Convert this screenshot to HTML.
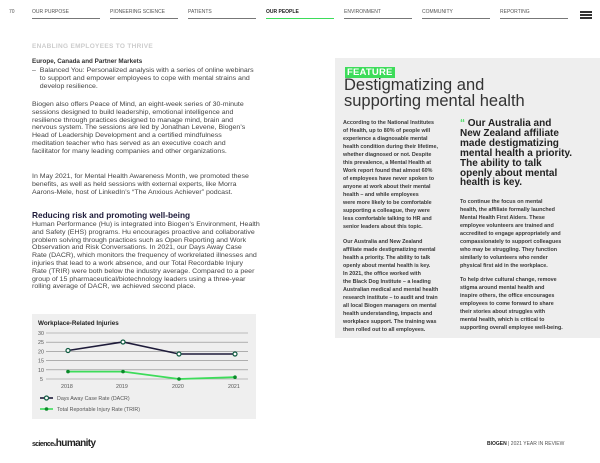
<!DOCTYPE html>
<html><head><meta charset="utf-8"><style>
*{margin:0;padding:0;box-sizing:border-box}
body{width:600px;height:463px;background:#fff;position:relative;overflow:hidden;font-family:"Liberation Sans",sans-serif;color:#333}
.a{position:absolute;white-space:nowrap}
.nav{font-size:5px;color:#555;top:9px}
.ul{position:absolute;top:18px;height:1.3px;width:68px;background:#777}
.t{position:absolute;font-size:6.1px;line-height:7.8px;color:#444;white-space:nowrap;transform:scaleX(1.15);transform-origin:0 0}
.r{position:absolute;font-size:5.4px;line-height:8px;color:#333;white-space:nowrap}
</style></head><body>
<div class="a" style="left:9px;top:9px;font-size:5px;color:#555">70</div>
<div class="a nav" style="left:32px">OUR PURPOSE</div><div class="ul" style="left:32px"></div>
<div class="a nav" style="left:110px">PIONEERING SCIENCE</div><div class="ul" style="left:110px"></div>
<div class="a nav" style="left:188px">PATIENTS</div><div class="ul" style="left:188px"></div>
<div class="a nav" style="left:266px;font-weight:bold;color:#222">OUR PEOPLE</div><div class="ul" style="left:266px;background:#3ddc5a"></div>
<div class="a nav" style="left:344px">ENVIRONMENT</div><div class="ul" style="left:344px"></div>
<div class="a nav" style="left:422px">COMMUNITY</div><div class="ul" style="left:422px"></div>
<div class="a nav" style="left:500px">REPORTING</div><div class="ul" style="left:500px"></div>
<div class="a" style="left:580px;top:11px;width:12px;height:1.5px;background:#333;box-shadow:0 3px 0 #333,0 6px 0 #333"></div>
<div class="a" style="left:32px;top:43px;font-size:6.5px;font-weight:bold;color:#ccc;letter-spacing:.3px">ENABLING EMPLOYEES TO THRIVE</div>

<div class="a" style="left:32px;top:58px;font-size:6.3px;font-weight:bold;color:#333">Europe, Canada and Partner Markets</div>
<div class="t" style="left:32px;top:67px">–&nbsp; Balanced You: Personalized analysis with a series of online webinars<br>&nbsp;&nbsp;&nbsp;&nbsp;to support and empower employees to cope with mental strains and<br>&nbsp;&nbsp;&nbsp;&nbsp;develop resilience.</div>
<div class="t" style="left:32px;top:101px">Biogen also offers Peace of Mind, an eight-week series of 30-minute<br>sessions designed to build leadership, emotional intelligence and<br>resilience through practices designed to manage mind, brain and<br>nervous system. The sessions are led by Jonathan Levene, Biogen’s<br>Head of Leadership Development and a certified mindfulness<br>meditation teacher who has served as an executive coach and<br>facilitator for many leading companies and other organizations.</div>
<div class="t" style="left:32px;top:173px">In May 2021, for Mental Health Awareness Month, we promoted these<br>benefits, as well as held sessions with external experts, like Morra<br>Aarons-Mele, host of LinkedIn’s “The Anxious Achiever” podcast.</div>
<div class="a" style="left:32px;top:210px;font-size:8.3px;font-weight:bold;color:#1e1b3a">Reducing risk and promoting well-being</div>
<div class="t" style="left:32px;top:221px">Human Performance (Hu) is integrated into Biogen’s Environment, Health<br>and Safety (EHS) programs. Hu encourages proactive and collaborative<br>problem solving through practices such as Open Reporting and Work<br>Observation and Risk Conversations. In 2021, our Days Away Case<br>Rate (DACR), which monitors the frequency of workrelated illnesses and<br>injuries that lead to a work absence, and our Total Recordable Injury<br>Rate (TRIR) were both below the industry average. Compared to a peer<br>group of 15 pharmaceutical/biotechnology leaders using a three-year<br>rolling average of DACR, we achieved second place.</div>

<div class="a" style="left:32px;top:314px;width:224px;height:105px;background:#efefef"></div>
<svg class="a" style="left:0;top:0" width="600" height="463">
<text x="38" y="325" font-size="6.3" font-weight="bold" fill="#222" font-family="Liberation Sans">Workplace-Related Injuries</text>
<g stroke="#888" stroke-width="0.6">
<line x1="46" x2="248" y1="333" y2="333"/><line x1="46" x2="248" y1="342.2" y2="342.2"/><line x1="46" x2="248" y1="351.4" y2="351.4"/><line x1="46" x2="248" y1="360.6" y2="360.6"/><line x1="46" x2="248" y1="369.8" y2="369.8"/><line x1="46" x2="248" y1="379" y2="379"/></g>
<g font-size="5.3" fill="#555" font-family="Liberation Sans"><text x="38" y="335">30</text><text x="38" y="344">25</text><text x="38" y="353.5">20</text><text x="38" y="362.5">15</text><text x="38" y="372">10</text><text x="40" y="381">5</text>
<text x="61" y="388">2018</text><text x="116" y="388">2019</text><text x="172" y="388">2020</text><text x="228" y="388">2021</text></g>
<polyline points="68,371.6 123,371.6 179,379 235,377.2" fill="none" stroke="#3ddc5a" stroke-width="1.8"/>
<g fill="#0a8a2a"><circle cx="68" cy="371.6" r="1.8"/><circle cx="123" cy="371.6" r="1.8"/><circle cx="179" cy="379" r="1.8"/><circle cx="235" cy="377.2" r="1.8"/></g>
<polyline points="68,350.5 123,342 179,354 235,354" fill="none" stroke="#1e1b3a" stroke-width="1.6"/>
<g fill="#fff" stroke="#0f5a40" stroke-width="1.2"><circle cx="68" cy="350.5" r="2"/><circle cx="123" cy="342" r="2"/><circle cx="179" cy="354" r="2"/><circle cx="235" cy="354" r="2"/></g>
<line x1="40" x2="53" y1="398" y2="398" stroke="#1e1b3a" stroke-width="1.6"/><circle cx="46.5" cy="398" r="2" fill="#fff" stroke="#0f5a40" stroke-width="1.2"/>
<line x1="40" x2="53" y1="409" y2="409" stroke="#3ddc5a" stroke-width="1.6"/><circle cx="46.5" cy="409" r="1.8" fill="#0a8a2a"/>
<g font-size="5.3" fill="#555" font-family="Liberation Sans"><text x="57" y="400">Days Away Case Rate (DACR)</text><text x="57" y="411">Total Reportable Injury Rate (TRIR)</text></g>
</svg>
<div class="a" style="left:32px;top:438px;font-size:10px;font-weight:bold;color:#222;letter-spacing:-.6px"><span style="font-size:7px">science</span><span style="font-size:4px">&amp;</span>humanity</div>
<div class="a" style="left:487px;top:441px;font-size:5px;color:#555"><b style="color:#222">BIOGEN</b> | 2021 YEAR IN REVIEW</div>

<div class="a" style="left:335px;top:58px;width:265px;height:280px;background:#eeeeee"></div>
<div class="a" style="left:345px;top:67px;height:11px;padding:0 2px;background:#3ddc5a;color:#fff;font-size:9.5px;font-weight:bold;line-height:11px;letter-spacing:.2px">FEATURE</div>
<div class="a" style="left:344px;top:77px;font-size:16.5px;line-height:16px;color:#333">Destigmatizing and<br>supporting mental health</div>
<div class="r" style="left:343px;top:119px;font-weight:bold;color:#3a3a3a">According to the National Institutes<br>of Health, up to 80% of people will<br>experience a diagnosable mental<br>health condition during their lifetime,<br>whether diagnosed or not. Despite<br>this prevalence, a Mental Health at<br>Work report found that almost 60%<br>of employees have never spoken to<br>anyone at work about their mental<br>health – and while employees<br>were more likely to be comfortable<br>supporting a colleague, they were<br>less comfortable talking to HR and<br>senior leaders about this topic.</div>
<div class="r" style="left:343px;top:238px;font-weight:bold;color:#3a3a3a">Our Australia and New Zealand<br>affiliate made destigmatizing mental<br>health a priority. The ability to talk<br>openly about mental health is key.<br>In 2021, the office worked with<br>the Black Dog Institute – a leading<br>Australian medical and mental health<br>research institute – to audit and train<br>all local Biogen managers on mental<br>health understanding, impacts and<br>workplace support. The training was<br>then rolled out to all employees.</div>
<div class="a" style="left:460px;top:119px;font-size:10px;line-height:9.9px;font-weight:bold;color:#222"><span style="color:#3ddc5a">“</span> Our Australia and<br>New Zealand affiliate<br>made destigmatizing<br>mental health a priority.<br>The ability to talk<br>openly about mental<br>health is key.</div>
<div class="r" style="left:460px;top:198px;font-weight:bold;color:#3a3a3a">To continue the focus on mental<br>health, the affiliate formally launched<br>Mental Health First Aiders. These<br>employee volunteers are trained and<br>accredited to engage appropriately and<br>compassionately to support colleagues<br>who may be struggling. They function<br>similarly to volunteers who render<br>physical first aid in the workplace.</div>
<div class="r" style="left:460px;top:276px;font-weight:bold;color:#3a3a3a">To help drive cultural change, remove<br>stigma around mental health and<br>inspire others, the office encourages<br>employees to come forward to share<br>their stories about struggles with<br>mental health, which is critical to<br>supporting overall employee well-being.</div>
</body></html>
